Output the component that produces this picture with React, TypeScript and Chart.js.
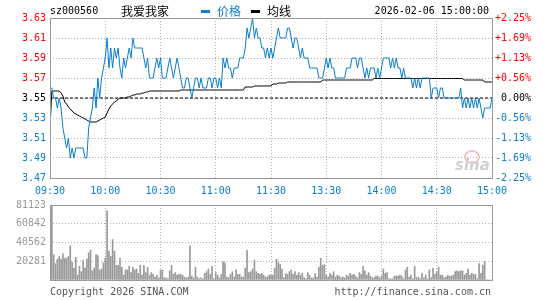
import React, { useEffect, useRef } from 'react';
import { Chart, registerables } from 'chart.js';

Chart.register(...registerables);

const stockCode = 'sz000560';
const stockName = '我爱我家';
const stamp = '2026-02-06 15:00:00';
const prevClose = 3.55;
const timeLabels = ['09:30', '10:00', '10:30', '11:00', '11:30', '13:30', '14:00', '14:30', '15:00'];
const priceTicks = [3.47, 3.49, 3.51, 3.53, 3.55, 3.57, 3.59, 3.61, 3.63];
const volTicks = [0, 20281, 40562, 60842, 81123];

const prices = [
  3.56, 3.56, 3.55, 3.55, 3.54, 3.55, 3.54, 3.52, 3.51, 3.50,
  3.51, 3.49, 3.50, 3.49, 3.50, 3.50, 3.50, 3.50, 3.50, 3.49,
  3.49, 3.52, 3.53, 3.54, 3.56, 3.54, 3.57, 3.55, 3.57, 3.58,
  3.59, 3.61, 3.58, 3.60, 3.58, 3.60, 3.59, 3.60, 3.58, 3.57,
  3.59, 3.58, 3.59, 3.60, 3.59, 3.61, 3.60, 3.60, 3.60, 3.60,
  3.60, 3.59, 3.58, 3.59, 3.57, 3.57, 3.57, 3.58, 3.59, 3.58,
  3.59, 3.57, 3.57, 3.57, 3.58, 3.59, 3.58, 3.57, 3.58, 3.59,
  3.58, 3.57, 3.56, 3.56, 3.57, 3.57, 3.56, 3.55, 3.56, 3.57,
  3.57, 3.56, 3.57, 3.56, 3.56, 3.56, 3.57, 3.57, 3.56, 3.57,
  3.57, 3.56, 3.57, 3.56, 3.59, 3.58, 3.59, 3.58, 3.58, 3.57,
  3.58, 3.58, 3.58, 3.59, 3.59, 3.59, 3.60, 3.62, 3.61, 3.62,
  3.63, 3.61, 3.62, 3.61, 3.61, 3.60, 3.60, 3.59, 3.60, 3.59,
  3.60, 3.59, 3.60, 3.61, 3.62, 3.61, 3.61, 3.61, 3.61, 3.62,
  3.62, 3.61, 3.60, 3.61, 3.61, 3.60, 3.59, 3.60, 3.59, 3.59,
  3.59, 3.58, 3.58, 3.58, 3.58, 3.58, 3.57, 3.57, 3.57, 3.58,
  3.59, 3.58, 3.59, 3.58, 3.58, 3.57, 3.57, 3.57, 3.57, 3.57,
  3.57, 3.58, 3.58, 3.58, 3.59, 3.59, 3.59, 3.58, 3.59, 3.59,
  3.58, 3.57, 3.58, 3.57, 3.58, 3.58, 3.58, 3.57, 3.58, 3.57,
  3.58, 3.59, 3.59, 3.59, 3.59, 3.58, 3.59, 3.58, 3.59, 3.58,
  3.58, 3.57, 3.58, 3.57, 3.57, 3.57, 3.57, 3.56, 3.57, 3.56,
  3.57, 3.56, 3.57, 3.57, 3.57, 3.57, 3.57, 3.55, 3.56, 3.56,
  3.56, 3.55, 3.56, 3.56, 3.55, 3.55, 3.55, 3.55, 3.55, 3.55,
  3.55, 3.55, 3.55, 3.56, 3.54, 3.55, 3.54, 3.55, 3.54, 3.55,
  3.54, 3.55, 3.54, 3.55, 3.54, 3.53, 3.54, 3.54, 3.54, 3.54,
  3.55,
];

const avgPrices = [
  3.520, 3.557, 3.557, 3.557, 3.557, 3.557, 3.555, 3.552, 3.546, 3.544,
  3.541, 3.539, 3.537, 3.535, 3.534, 3.533, 3.532, 3.531, 3.530, 3.529,
  3.528, 3.527, 3.526, 3.526, 3.526, 3.526, 3.527, 3.528, 3.529, 3.530,
  3.531, 3.535, 3.539, 3.542, 3.544, 3.546, 3.547, 3.549, 3.550, 3.550,
  3.550, 3.550, 3.551, 3.551, 3.552, 3.553, 3.553, 3.554, 3.554, 3.554,
  3.555, 3.555, 3.556, 3.556, 3.557, 3.557, 3.557, 3.557, 3.557, 3.557,
  3.557, 3.557, 3.557, 3.557, 3.557, 3.557, 3.557, 3.557, 3.557, 3.557,
  3.557, 3.558, 3.558, 3.558, 3.558, 3.558, 3.558, 3.558, 3.558, 3.558,
  3.558, 3.558, 3.558, 3.558, 3.558, 3.558, 3.558, 3.558, 3.558, 3.558,
  3.558, 3.558, 3.558, 3.558, 3.558, 3.558, 3.558, 3.558, 3.558, 3.558,
  3.558, 3.558, 3.558, 3.558, 3.558, 3.558, 3.561, 3.561, 3.561, 3.561,
  3.561, 3.562, 3.562, 3.562, 3.562, 3.562, 3.562, 3.562, 3.562, 3.562,
  3.562, 3.564, 3.564, 3.564, 3.565, 3.565, 3.565, 3.565, 3.565, 3.566,
  3.566, 3.566, 3.566, 3.566, 3.566, 3.566, 3.566, 3.566, 3.566, 3.566,
  3.566, 3.566, 3.566, 3.566, 3.566, 3.566, 3.566, 3.566, 3.568, 3.568,
  3.568, 3.568, 3.568, 3.568, 3.568, 3.568, 3.568, 3.568, 3.568, 3.568,
  3.568, 3.568, 3.568, 3.568, 3.568, 3.568, 3.568, 3.568, 3.568, 3.568,
  3.568, 3.568, 3.568, 3.568, 3.568, 3.568, 3.5695, 3.5695, 3.5695, 3.5695,
  3.5695, 3.5695, 3.5695, 3.5695, 3.5695, 3.5695, 3.5695, 3.5695, 3.5695, 3.5695,
  3.5695, 3.5695, 3.5695, 3.5695, 3.5695, 3.5695, 3.5695, 3.5695, 3.5695, 3.5695,
  3.5695, 3.5695, 3.5695, 3.5695, 3.5695, 3.5695, 3.5695, 3.5695, 3.5695, 3.5695,
  3.5695, 3.5695, 3.5695, 3.5695, 3.5695, 3.5695, 3.5695, 3.5695, 3.5695, 3.5695,
  3.5695, 3.5695, 3.5695, 3.5695, 3.5695, 3.568, 3.568, 3.568, 3.568, 3.568,
  3.568, 3.568, 3.568, 3.568, 3.568, 3.568, 3.566, 3.566, 3.566, 3.566,
  3.566,
];

const volumes = [
  25400, 81123, 27400, 17700, 22500, 25400, 22500, 28300, 23200, 23800,
  25400, 37000, 19000, 12900, 24500, 5200, 14800, 9000, 21600, 12900,
  22500, 29300, 32200, 10000, 12900, 27400, 26400, 10900, 11900, 18700,
  23500, 74700, 31200, 25400, 43800, 31200, 15800, 15800, 23500, 13800,
  5200, 10900, 10900, 14800, 8000, 13800, 10900, 11900, 7100, 15800,
  5200, 15800, 8000, 13800, 5200, 8000, 6100, 3200, 5200, 2300,
  10900, 10900, 2300, 2300, 1300, 10000, 15800, 6100, 8000, 5200,
  6100, 6100, 5200, 3200, 2300, 3200, 37000, 4200, 2300, 13800,
  3200, 1300, 2300, 1300, 7100, 9000, 11900, 6100, 14800, 1300,
  8000, 5200, 2300, 6100, 19600, 18700, 3200, 2300, 6100, 9000,
  3200, 10900, 6100, 6100, 3200, 3200, 12900, 32200, 8000, 9000,
  11900, 21600, 9000, 7100, 6100, 7100, 5200, 3200, 3200, 5200,
  5200, 5200, 12900, 22500, 18700, 16700, 11900, 2300, 7100, 6100,
  9000, 10900, 6100, 9000, 5200, 8000, 5200, 7100, 2300, 1300,
  8000, 5200, 2300, 2300, 7100, 3200, 13800, 23500, 15800, 16700,
  5200, 3200, 7100, 5200, 9000, 3200, 5200, 4200, 2300, 3200,
  2300, 5200, 4200, 7100, 5200, 6100, 4200, 2300, 8000, 6100,
  14800, 10000, 5200, 8000, 4200, 2300, 2300, 4200, 4200, 2300,
  4200, 11900, 7100, 8000, 1300, 1300, 1300, 4200, 4200, 4200,
  5200, 4200, 1300, 10900, 13800, 3200, 5200, 1300, 14800, 2300,
  3200, 1300, 7100, 2300, 5200, 1300, 10900, 2300, 12900, 6100,
  9000, 13800, 5200, 5200, 2300, 3200, 5200, 4200, 4200, 5200,
  9000, 10000, 9000, 10000, 10000, 5200, 7100, 11900, 5200, 7100,
  6100, 6100, 1300, 17700, 7100, 15800, 20000, 0, 0, 0,
  0,
];

const BLUE = '#0a7dd0';
const RED = '#ff0000';
const GRID = '#b0b0b0';
const FRAME = '#9a9a9a';
const MONO = '"DejaVu Sans Mono", "Liberation Mono", monospace';
const CJK = '"Noto Sans CJK SC", sans-serif';

const framePlugin = {
  id: 'frame',
  afterDraw(chart: any) {
    const { ctx, chartArea } = chart;
    const l = Math.round(chartArea.left) + 0.5;
    const t = Math.round(chartArea.top) + 0.5;
    const w = Math.round(chartArea.right - chartArea.left);
    const h = Math.round(chartArea.bottom - chartArea.top);
    ctx.save();
    ctx.strokeStyle = FRAME;
    ctx.lineWidth = 1;
    ctx.setLineDash([]);
    ctx.strokeRect(l, t, w, h);
    ctx.restore();
  },
};

const pct = (p: number) => (p / prevClose - 1) * 100;
const sideColor = (v: number, ref: number) =>
  v > ref + 1e-9 ? RED : v < ref - 1e-9 ? BLUE : '#000';

export default function App() {
  const priceRef = useRef<HTMLCanvasElement>(null);
  const volRef = useRef<HTMLCanvasElement>(null);

  useEffect(() => {
    const font = { family: MONO, size: 10 };
    const timeTicks = (scale: any) => {
      scale.ticks = timeLabels.map((_, i) => ({ value: i * 30 }));
    };
    const priceChart = new Chart(priceRef.current as HTMLCanvasElement, {
      type: 'line',
      data: {
        datasets: [
          {
            label: '价格',
            data: prices.map((p, i) => ({ x: i, y: p })),
            borderColor: BLUE,
            borderWidth: 1,
            pointRadius: 0,
            tension: 0,
            yAxisID: 'y',
          },
          {
            label: '均线',
            data: avgPrices.map((p, i) => ({ x: i, y: p })),
            borderColor: '#000',
            borderWidth: 1,
            pointRadius: 0,
            tension: 0,
            yAxisID: 'y',
          },
          {
            label: 'prev',
            data: [
              { x: 0, y: prevClose },
              { x: timeLabels.length * 30 - 30, y: prevClose },
            ],
            borderColor: '#000',
            borderWidth: 1,
            borderDash: [3, 2],
            pointRadius: 0,
            yAxisID: 'y',
          },
        ],
      },
      options: {
        animation: false,
        responsive: false,
        devicePixelRatio: 1,
        layout: { padding: { top: 18, right: 14 } },
        plugins: { legend: { display: false }, tooltip: { enabled: false } },
        scales: {
          x: {
            type: 'linear',
            min: 0,
            max: 240,
            afterBuildTicks: timeTicks,
            afterFit: (s: any) => {
              s.height = 22;
            },
            ticks: {
              callback: (v: any) => timeLabels[Math.round(Number(v) / 30)],
              color: BLUE,
              font,
              padding: 7,
              maxRotation: 0,
              autoSkip: false,
            },
            grid: { color: GRID, drawTicks: false, lineWidth: 1 },
            border: { display: false, dash: [1, 2] },
          },
          y: {
            position: 'left',
            min: priceTicks[0],
            max: priceTicks[priceTicks.length - 1],
            afterBuildTicks: (s: any) => {
              s.ticks = priceTicks.map((v) => ({ value: v }));
            },
            afterFit: (s: any) => {
              s.width = 50;
            },
            ticks: {
              callback: (v: any) => Number(v).toFixed(2),
              color: (c: any) => sideColor(c.tick.value, prevClose),
              font,
              padding: 4,
            },
            grid: { color: GRID, drawTicks: false, lineWidth: 1 },
            border: { display: false, dash: [1, 2] },
          },
          y2: {
            position: 'right',
            min: pct(priceTicks[0]),
            max: pct(priceTicks[priceTicks.length - 1]),
            afterBuildTicks: (s: any) => {
              s.ticks = priceTicks.map((v) => ({ value: pct(v) }));
            },
            afterFit: (s: any) => {
              s.width = 39;
            },
            ticks: {
              callback: (v: any) => {
                const n = Number(v);
                const t = Math.abs(n) < 1e-9 ? '0.00' : n.toFixed(2);
                return (n > 1e-9 ? '+' : '') + t + '%';
              },
              color: (c: any) => sideColor(c.tick.value, 0),
              font,
              padding: 3,
              crossAlign: 'far',
            },
            grid: { display: false, drawTicks: false },
            border: { display: false },
          },
        },
      },
      plugins: [framePlugin],
    } as any);

    const volChart = new Chart(volRef.current as HTMLCanvasElement, {
      type: 'bar',
      data: {
        datasets: [
          {
            label: '成交量',
            data: volumes.map((v, i) => ({ x: i, y: v })),
            backgroundColor: '#999999',
            borderWidth: 0,
            barThickness: 1,
          },
        ],
      },
      options: {
        animation: false,
        responsive: false,
        devicePixelRatio: 1,
        layout: { padding: { top: 6, right: 53, bottom: 5 } },
        plugins: { legend: { display: false }, tooltip: { enabled: false } },
        scales: {
          x: {
            type: 'linear',
            min: 0,
            max: 240,
            offset: false,
            afterBuildTicks: timeTicks,
            afterFit: (s: any) => {
              s.height = 0;
            },
            ticks: { display: false },
            grid: { color: GRID, drawTicks: false, lineWidth: 1, offset: false },
            border: { display: false, dash: [1, 2] },
          },
          y: {
            min: volTicks[0],
            max: volTicks[volTicks.length - 1],
            afterBuildTicks: (s: any) => {
              s.ticks = volTicks.map((v) => ({ value: v }));
            },
            afterFit: (s: any) => {
              s.width = 50;
            },
            ticks: {
              callback: (v: any) => (Number(v) === 0 ? '' : String(v)),
              color: '#999999',
              font,
              padding: 4,
            },
            grid: { color: GRID, drawTicks: false, lineWidth: 1 },
            border: { display: false, dash: [1, 2] },
          },
        },
      },
      plugins: [framePlugin],
    } as any);

    return () => {
      priceChart.destroy();
      volChart.destroy();
    };
  }, []);

  const abs = (s: React.CSSProperties): React.CSSProperties => ({
    position: 'absolute',
    whiteSpace: 'nowrap',
    ...s,
  });

  return (
    <div
      style={{
        position: 'fixed',
        left: 0,
        top: 0,
        width: 545,
        height: 300,
        background: '#fff',
        overflow: 'hidden',
      }}
    >
      <canvas ref={priceRef} width={545} height={200} style={{ position: 'absolute', left: 0, top: 0 }} />
      <canvas ref={volRef} width={545} height={95} style={{ position: 'absolute', left: 0, top: 195 }} />

      <div style={abs({ left: 50, top: 5, font: `10px ${MONO}`, lineHeight: '12px', color: '#000' })}>{stockCode}</div>
      <div style={abs({ left: 121, top: 3, font: `12px ${CJK}`, lineHeight: '16px', color: '#000' })}>{stockName}</div>
      <div style={abs({ left: 201, top: 10, width: 9, height: 3, background: BLUE })} />
      <div style={abs({ left: 217, top: 3, font: `12px ${CJK}`, lineHeight: '16px', color: BLUE })}>价格</div>
      <div style={abs({ left: 251, top: 10, width: 9, height: 3, background: '#000' })} />
      <div style={abs({ left: 267, top: 3, font: `12px ${CJK}`, lineHeight: '16px', color: '#000' })}>均线</div>
      <div style={abs({ right: 56, top: 5, font: `10px ${MONO}`, lineHeight: '12px', color: '#000' })}>{stamp}</div>

      <div style={abs({ left: 464, top: 150, width: 12, height: 10, borderRadius: '50%', border: '2px solid #f3c4c4' })} />
      <div
        style={abs({
          left: 455,
          top: 157,
          font: `italic bold 15px "DejaVu Sans", sans-serif`,
          lineHeight: '16px',
          color: '#d0d0d0',
        })}
      >
        sina
      </div>

      <div style={abs({ left: 50, top: 286, font: `10px ${MONO}`, lineHeight: '12px', color: '#555' })}>
        Copyright 2026 SINA.COM
      </div>
      <div style={abs({ right: 54, top: 286, font: `10px ${MONO}`, lineHeight: '12px', color: '#555' })}>
        http://finance.sina.com.cn
      </div>
    </div>
  );
}
